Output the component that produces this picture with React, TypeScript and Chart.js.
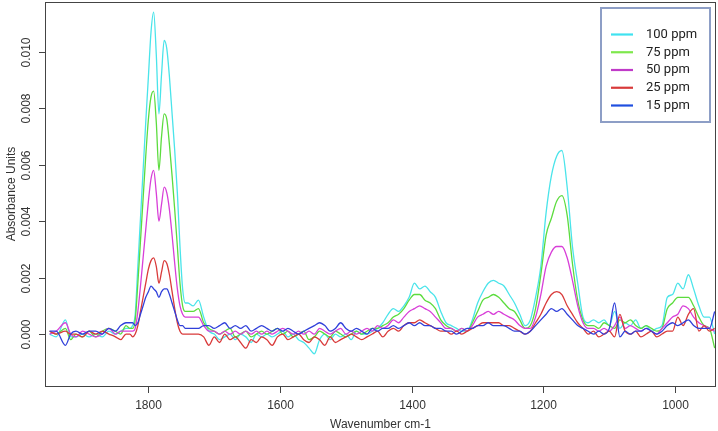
import React, { useEffect, useRef } from 'react';
import { Chart, registerables } from 'chart.js';

Chart.register(...registerables);

const wavenumbers = [
  1950, 1940, 1926, 1918, 1910, 1900, 1890, 1880, 1870, 1860, 1850, 1842, 1834,
  1828, 1824, 1820, 1816, 1812, 1808, 1804, 1800, 1796, 1792, 1788, 1784, 1780, 1776, 1772, 1768, 1764, 1760, 1756, 1752, 1748, 1744, 1740,
  1732, 1724, 1716, 1708, 1700, 1692, 1684, 1676, 1668, 1660,
  1652, 1644, 1636, 1628, 1620, 1612, 1604, 1596, 1588, 1580,
  1572, 1564, 1556, 1548, 1540, 1532, 1524, 1516, 1508, 1500,
  1492, 1484, 1476, 1468, 1460, 1452, 1444, 1436, 1428, 1420,
  1412, 1404, 1396, 1388, 1380, 1372, 1364, 1356, 1348, 1340,
  1332, 1324, 1316, 1308, 1300, 1292, 1284, 1276, 1268, 1260,
  1252, 1244, 1236, 1228, 1220, 1212, 1204, 1196, 1188, 1180,
  1172, 1164, 1156, 1148, 1140, 1132, 1124, 1116, 1108, 1100,
  1092, 1084, 1076, 1068, 1060, 1052, 1044, 1036, 1028, 1020,
  1012, 1004, 996, 988, 980, 972, 964, 956, 948, 940,
];

const ppm100 = [
  0.0000, -0.0001, 0.0005, -0.0001, -0.0001, 0.0000, -0.0001, 0.0000, -0.0001, 0.0001, 0.0000, 0.0001, 0.0002,
  0.0002, 0.0003, 0.0007, 0.0024, 0.0041, 0.0058, 0.0075, 0.0091, 0.0107, 0.0114, 0.0099, 0.0078, 0.0092, 0.0104, 0.0101, 0.0091, 0.0078, 0.0065, 0.0050, 0.0031, 0.0016, 0.0011, 0.0011,
  0.0010, 0.0012, 0.0006, 0.0001, 0.0000, -0.0002, -0.0001, 0.0000, -0.0002, 0.0000,
  -0.0001, -0.0003, 0.0000, -0.0001, 0.0000, -0.0001, 0.0000, 0.0001, -0.0001, 0.0000,
  -0.0002, -0.0003, -0.0005, -0.0007, -0.0002, 0.0000, -0.0002, 0.0000, -0.0001, 0.0000,
  -0.0002, 0.0001, 0.0000, 0.0000, 0.0001, 0.0002, 0.0004, 0.0007, 0.0009, 0.0008,
  0.0010, 0.0013, 0.0018, 0.0016, 0.0017, 0.0015, 0.0013, 0.0008, 0.0004, 0.0003,
  0.0002, 0.0001, 0.0001, 0.0005, 0.0011, 0.0015, 0.0018, 0.0019, 0.0018, 0.0017,
  0.0014, 0.0011, 0.0007, 0.0003, 0.0005, 0.0013, 0.0024, 0.0043, 0.0056, 0.0063,
  0.0065, 0.0052, 0.0031, 0.0018, 0.0006, 0.0004, 0.0005, 0.0004, 0.0005, 0.0003,
  0.0008, 0.0002, 0.0004, 0.0003, 0.0005, 0.0002, 0.0003, 0.0001, 0.0002, 0.0003,
  0.0013, 0.0014, 0.0018, 0.0016, 0.0021, 0.0016, 0.0010, 0.0006, 0.0006, 0.0000,
];

const ppm75 = [
  0.0001, 0.0000, 0.0002, -0.0002, 0.0000, -0.0001, 0.0001, -0.0001, 0.0001, 0.0002, 0.0001, 0.0000, 0.0003,
  0.0002, 0.0002, 0.0005, 0.0018, 0.0033, 0.0048, 0.0063, 0.0076, 0.0084, 0.0086, 0.0075, 0.0058, 0.0070, 0.0078, 0.0076, 0.0067, 0.0056, 0.0044, 0.0031, 0.0018, 0.0010, 0.0008, 0.0008,
  0.0008, 0.0009, 0.0004, 0.0002, 0.0001, 0.0000, 0.0001, 0.0002, -0.0001, 0.0000,
  0.0001, -0.0001, 0.0000, 0.0001, 0.0000, 0.0001, 0.0002, 0.0000, 0.0001, -0.0001,
  0.0000, 0.0001, -0.0002, -0.0001, 0.0001, 0.0000, -0.0001, 0.0001, 0.0000, -0.0001,
  0.0000, 0.0001, 0.0000, 0.0001, 0.0002, 0.0002, 0.0003, 0.0004, 0.0006, 0.0007,
  0.0009, 0.0012, 0.0014, 0.0014, 0.0012, 0.0011, 0.0009, 0.0005, 0.0003, 0.0002,
  0.0001, 0.0002, 0.0001, 0.0004, 0.0008, 0.0012, 0.0013, 0.0014, 0.0013, 0.0011,
  0.0009, 0.0008, 0.0005, 0.0002, 0.0003, 0.0009, 0.0021, 0.0035, 0.0041, 0.0047,
  0.0049, 0.0042, 0.0025, 0.0012, 0.0005, 0.0003, 0.0003, 0.0002, 0.0004, 0.0003,
  0.0002, 0.0005, 0.0004, 0.0005, 0.0003, 0.0002, 0.0003, 0.0002, 0.0001, 0.0002,
  0.0009, 0.0011, 0.0013, 0.0013, 0.0013, 0.0010, 0.0006, 0.0003, 0.0002, -0.0005,
];

const ppm50 = [
  0.0000, 0.0001, 0.0004, 0.0000, -0.0001, 0.0001, 0.0000, -0.0001, 0.0000, 0.0002, 0.0000, 0.0001, 0.0001,
  0.0001, 0.0001, 0.0002, 0.0008, 0.0017, 0.0027, 0.0037, 0.0047, 0.0055, 0.0058, 0.0050, 0.0040, 0.0046, 0.0052, 0.0050, 0.0044, 0.0035, 0.0025, 0.0016, 0.0010, 0.0007, 0.0006, 0.0006,
  0.0006, 0.0006, 0.0003, 0.0001, 0.0001, 0.0000, 0.0001, 0.0000, 0.0001, 0.0000,
  0.0001, 0.0000, 0.0001, 0.0000, 0.0001, 0.0000, 0.0001, 0.0002, 0.0001, 0.0000,
  0.0001, 0.0000, 0.0001, 0.0000, 0.0002, 0.0001, 0.0000, 0.0001, 0.0002, 0.0000,
  0.0001, 0.0000, 0.0001, 0.0002, 0.0001, 0.0003, 0.0002, 0.0003, 0.0005, 0.0004,
  0.0006, 0.0008, 0.0009, 0.0010, 0.0009, 0.0008, 0.0006, 0.0004, 0.0002, 0.0002,
  0.0001, 0.0002, 0.0001, 0.0003, 0.0006, 0.0007, 0.0008, 0.0007, 0.0008, 0.0007,
  0.0006, 0.0005, 0.0003, 0.0002, 0.0002, 0.0006, 0.0014, 0.0024, 0.0029, 0.0031,
  0.0031, 0.0027, 0.0019, 0.0010, 0.0004, 0.0002, 0.0002, 0.0001, 0.0002, 0.0001,
  0.0003, 0.0006, 0.0002, 0.0003, 0.0002, 0.0001, 0.0002, 0.0001, 0.0000, 0.0002,
  0.0004, 0.0006, 0.0007, 0.0010, 0.0009, 0.0006, 0.0004, 0.0003, 0.0002, 0.0001,
];

const ppm25 = [
  0.0001, 0.0000, 0.0001, 0.0000, 0.0000, -0.0001, 0.0001, 0.0000, 0.0001, 0.0000, -0.0001, -0.0002, 0.0000,
  0.0000, -0.0001, 0.0000, 0.0003, 0.0008, 0.0013, 0.0018, 0.0023, 0.0026, 0.0027, 0.0024, 0.0018, 0.0022, 0.0026, 0.0025, 0.0021, 0.0015, 0.0009, 0.0004, 0.0001, 0.0000, 0.0000, 0.0000,
  0.0000, 0.0000, -0.0001, -0.0004, -0.0001, -0.0003, 0.0000, -0.0002, -0.0001, -0.0003,
  -0.0005, -0.0002, -0.0003, -0.0001, -0.0002, -0.0004, -0.0001, 0.0000, -0.0002, -0.0001,
  0.0000, -0.0002, -0.0003, -0.0001, -0.0002, -0.0004, -0.0001, -0.0003, -0.0002, -0.0001,
  0.0000, -0.0001, -0.0002, -0.0001, 0.0000, 0.0001, -0.0001, 0.0001, 0.0002, 0.0001,
  0.0003, 0.0004, 0.0004, 0.0005, 0.0004, 0.0003, 0.0002, 0.0001, 0.0001, 0.0000,
  0.0001, 0.0000, 0.0001, 0.0002, 0.0003, 0.0004, 0.0004, 0.0004, 0.0004, 0.0003,
  0.0003, 0.0002, 0.0001, 0.0000, 0.0001, 0.0004, 0.0007, 0.0011, 0.0014, 0.0015,
  0.0014, 0.0010, 0.0007, 0.0004, 0.0002, 0.0000, 0.0001, -0.0001, 0.0000, 0.0001,
  -0.0001, 0.0007, 0.0001, 0.0000, 0.0001, -0.0001, 0.0000, 0.0001, -0.0001, 0.0000,
  0.0001, 0.0001, 0.0006, 0.0003, 0.0007, 0.0009, 0.0001, 0.0003, 0.0001, 0.0002,
];

const ppm15 = [
  0.0001, 0.0001, -0.0004, 0.0000, 0.0001, 0.0000, 0.0001, 0.0001, 0.0000, 0.0002, 0.0001, 0.0003, 0.0004,
  0.0004, 0.0004, 0.0003, 0.0004, 0.0007, 0.0010, 0.0013, 0.0015, 0.0017, 0.0016, 0.0015, 0.0013, 0.0015, 0.0016, 0.0016, 0.0014, 0.0011, 0.0008, 0.0005, 0.0003, 0.0003, 0.0002, 0.0002,
  0.0002, 0.0002, 0.0003, 0.0003, 0.0002, 0.0003, 0.0004, 0.0002, 0.0003, 0.0002,
  0.0003, 0.0001, 0.0002, 0.0003, 0.0002, 0.0001, 0.0002, 0.0001, 0.0002, 0.0001,
  0.0000, 0.0001, 0.0002, 0.0003, 0.0004, 0.0003, 0.0001, 0.0002, 0.0004, 0.0002,
  0.0001, 0.0002, 0.0001, 0.0000, 0.0002, 0.0001, 0.0002, 0.0002, 0.0003, 0.0002,
  0.0003, 0.0004, 0.0003, 0.0004, 0.0003, 0.0003, 0.0002, 0.0002, 0.0001, 0.0001,
  0.0000, 0.0001, 0.0002, 0.0002, 0.0003, 0.0003, 0.0004, 0.0003, 0.0003, 0.0003,
  0.0002, 0.0001, 0.0001, 0.0000, 0.0001, 0.0003, 0.0005, 0.0007, 0.0009, 0.0008,
  0.0009, 0.0007, 0.0005, 0.0003, 0.0002, 0.0001, 0.0000, 0.0001, 0.0000, 0.0002,
  0.0011, -0.0001, 0.0001, 0.0000, 0.0001, 0.0001, 0.0002, 0.0001, 0.0000, 0.0001,
  0.0003, 0.0004, 0.0003, 0.0004, 0.0005, 0.0003, 0.0002, 0.0002, 0.0002, 0.0008,
];

const seriesLabels = ['100 ppm', '75 ppm', '50 ppm', '25 ppm', '15 ppm'];
const xTickValues = [1800, 1600, 1400, 1200, 1000];
const yTickValues = [0, 0.002, 0.004, 0.006, 0.008, 0.01];
const yTickLabels = ['0.000', '0.002', '0.004', '0.006', '0.008', '0.010'];
const xTitle = 'Wavenumber cm-1';
const yTitle = 'Absorbance Units';

const lineColors = ['#4ae4ea', '#5cdc3e', '#d83fd8', '#d93a3a', '#3040da'];
const legendColors = ['#3fe2f0', '#7ee84c', '#c03ac8', '#d83a3a', '#1f4fe0'];

export default function App() {
  const ref = useRef<HTMLCanvasElement>(null);

  useEffect(() => {
    document.body.style.margin = '0';
    const canvas = ref.current;
    if (!canvas) return;
    const series = [ppm100, ppm75, ppm50, ppm25, ppm15];
    const datasets = series.map((vals, i) => ({
      label: seriesLabels[i],
      data: wavenumbers.map((w, j) => ({ x: w, y: vals[j] })),
      borderColor: lineColors[i],
      backgroundColor: lineColors[i],
      borderWidth: 1.3,
      pointRadius: 0,
      fill: false,
      cubicInterpolationMode: 'monotone' as const,
      order: 5 - i,
    }));

    const decor = {
      id: 'decor',
      afterDraw(chart: any) {
        const ctx = chart.ctx as CanvasRenderingContext2D;
        const { left, right, top, bottom } = chart.chartArea;
        const xs = chart.scales.x;
        const ys = chart.scales.y;
        ctx.save();
        // frame
        ctx.strokeStyle = '#444';
        ctx.lineWidth = 1;
        ctx.strokeRect(Math.round(left) + 0.5, Math.round(top) + 0.5, Math.round(right - left) - 1, Math.round(bottom - top));
        ctx.fillStyle = '#333';
        ctx.font = '12px "Liberation Sans", Arial, sans-serif';
        // x ticks
        ctx.textAlign = 'center';
        ctx.textBaseline = 'middle';
        xTickValues.forEach((v) => {
          const px = Math.round(xs.getPixelForValue(v)) + 0.5;
          ctx.beginPath();
          ctx.moveTo(px, bottom);
          ctx.lineTo(px, bottom + 7);
          ctx.stroke();
          ctx.fillText(String(v), px, bottom + 20);
        });
        // y ticks
        yTickValues.forEach((v, i) => {
          const py = Math.round(ys.getPixelForValue(v)) + 0.5;
          ctx.beginPath();
          ctx.moveTo(left, py);
          ctx.lineTo(left - 6, py);
          ctx.stroke();
          ctx.save();
          ctx.translate(27, py);
          ctx.rotate(-Math.PI / 2);
          ctx.fillText(yTickLabels[i], 0, 0);
          ctx.restore();
        });
        // titles
        ctx.fillText(xTitle, (left + right) / 2, bottom + 39);
        ctx.save();
        ctx.translate(12, (top + bottom) / 2);
        ctx.rotate(-Math.PI / 2);
        ctx.fillText(yTitle, 0, 0);
        ctx.restore();
        // legend
        ctx.fillStyle = '#ffffff';
        ctx.fillRect(601, 8, 109, 114);
        ctx.strokeStyle = '#8d9ec6';
        ctx.lineWidth = 2;
        ctx.strokeRect(601, 8, 109, 114);
        ctx.font = '13px Roboto, "Noto Sans", sans-serif';
        ctx.textAlign = 'left';
        ctx.fillStyle = '#222';
        seriesLabels.forEach((lab, i) => {
          const ly = 34.5 + i * 17.75;
          ctx.strokeStyle = legendColors[i];
          ctx.lineWidth = 2.2;
          ctx.beginPath();
          ctx.moveTo(611, ly);
          ctx.lineTo(633, ly);
          ctx.stroke();
          ctx.fillText(lab, 646, ly);
        });
        ctx.restore();
      },
    };

    const chart = new Chart(canvas, {
      type: 'line',
      data: { datasets: datasets as any },
      options: {
        animation: false,
        responsive: false,
        layout: { padding: { left: 45, right: 2, top: 2, bottom: 45 } },
        scales: {
          x: { type: 'linear', reverse: true, min: 938, max: 1957, display: false },
          y: { type: 'linear', min: -0.00184, max: 0.01176, display: false },
        },
        plugins: { legend: { display: false }, tooltip: { enabled: false } },
      },
      plugins: [decor],
    });
    return () => chart.destroy();
  }, []);

  return (
    <div style={{ width: 718, height: 431 }}>
      <canvas ref={ref} width={718} height={431} style={{ display: 'block' }} />
    </div>
  );
}
